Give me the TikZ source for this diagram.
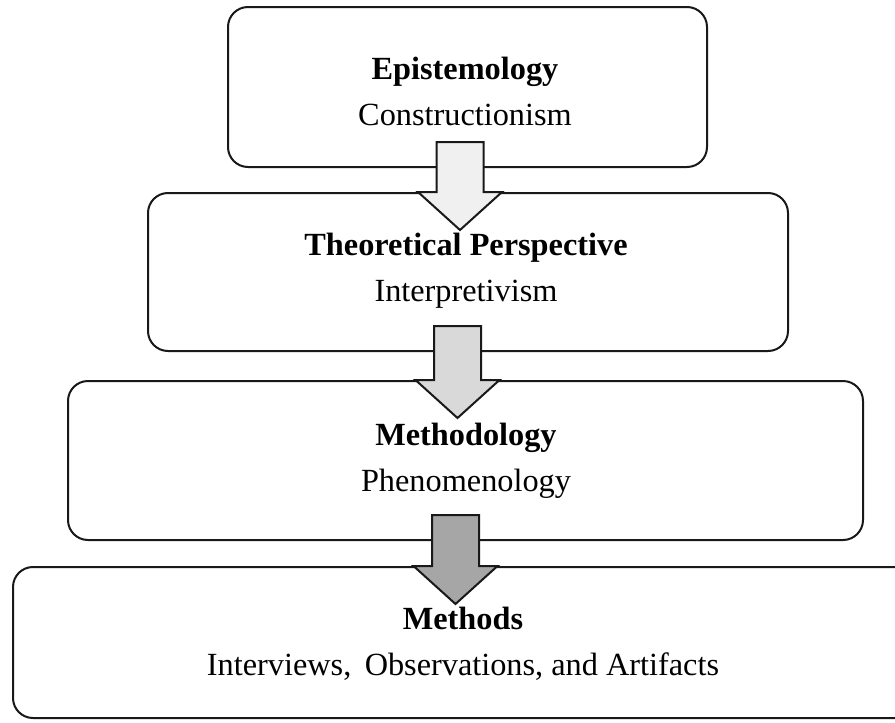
\documentclass[tikz,border=0pt]{standalone}
\usepackage{fontspec}
\setmainfont{Liberation Serif}
\usetikzlibrary{calc}

% block arrow running from the lower edge of one box into the next one
% #1 upper box, #2 lower box, #3 x of the arrow axis, #4 fill colour
\newcommand\flowarrow[4]{%
  \draw[arrowline, fill=#4] let \p1=(#1.south), \p2=(#2.north) in
    (#3pt-23.5pt,\y1+26pt) -- (#3pt+23.5pt,\y1+26pt) --
    (#3pt+23.5pt,\y2) -- (#3pt+42pt,\y2) --
    (#3pt,\y2-38pt) --
    (#3pt-42pt,\y2) -- (#3pt-23.5pt,\y2) -- cycle;}

\definecolor{arrowA}{HTML}{F0F0F0}
\definecolor{arrowB}{HTML}{D9D9D9}
\definecolor{arrowC}{HTML}{A6A6A6}

\tikzset{
  levelbox/.style={draw=black!90, line width=2pt, rounded corners=20pt,
    fill=white, align=center, inner sep=0pt,
    font=\fontsize{32.3}{46}\selectfont},
  boxtext/.style={align=center, inner sep=0pt,
    font=\fontsize{32.3}{46}\selectfont},
  arrowline/.style={draw=black!90, line width=2pt, line join=miter},
}

\begin{document}
\begin{tikzpicture}[x=1pt, y=-1pt]
  \clip (0,0) rectangle (895,723);
  \fill[white] (0,0) rectangle (895,723);

  \node[levelbox, minimum width=479pt, minimum height=160pt] (b1) at (467.5,87) {};
  \node[boxtext] (t1) at (465,91)
    {\textbf{Epistemology}\\Constructionism};
  \node[levelbox, minimum width=640pt, minimum height=158pt] (b2) at (468,272) {};
  \node[boxtext] (t2) at (466,271)
    {\textbf{Theoretical Perspective}\\Interpretivism};
  \node[levelbox, minimum width=795pt, minimum height=159pt] (b3) at (465.5,460.5) {};
  \node[boxtext] (t3) at (466,461)
    {\textbf{Methodology}\\Phenomenology};
  \node[levelbox, minimum width=907pt, minimum height=151pt] (b4) at (466.5,642.5) {};
  \node[boxtext] (t4) at (463,644)
    {\textbf{Methods}\\Interviews,\, Observations, and Artifacts};

  \flowarrow{b1}{b2}{460}{arrowA}
  \flowarrow{b2}{b3}{457.5}{arrowB}
  \flowarrow{b3}{b4}{455.5}{arrowC}
\end{tikzpicture}
\end{document}
